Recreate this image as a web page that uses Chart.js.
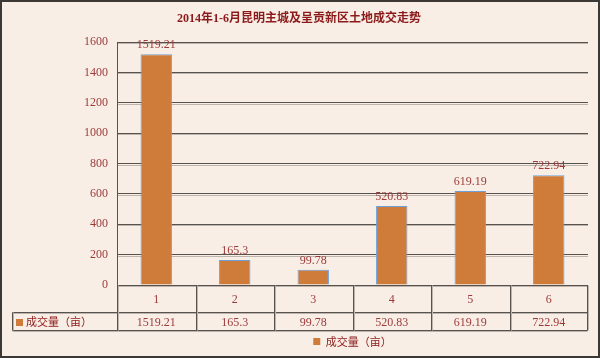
<!DOCTYPE html>
<html><head><meta charset="utf-8">
<script src="https://cdn.jsdelivr.net/npm/chart.js@4"></script>
<style>html,body{margin:0;padding:0;background:#f8eee5;overflow:hidden}</style>
</head><body>
<canvas id="c" width="600" height="358"></canvas>
<script>
const chartTitle = '2014年1-6月昆明主城及呈贡新区土地成交走势';
const categories = ['1', '2', '3', '4', '5', '6'];
const seriesName = '成交量（亩）';
const values = [1519.21, 165.3, 99.78, 520.83, 619.19, 722.94];
const valueLabels = ['1519.21', '165.3', '99.78', '520.83', '619.19', '722.94'];
const yMin = 0, yMax = 1600, yStep = 200;

const BG = '#f8eee5';
const RED = '#9c3a3a';
const DARKRED = '#8b1a1a';
const BAR = '#cf7b3a';
const BAR_BORDER = '#6d9fd8';
const LINE = '#57524e';
const SHADOW = '#bdb5ad';
const SERIF = "'Liberation Serif', 'Noto Sans CJK SC', serif";
const CJK = "'Noto Sans CJK SC', sans-serif";

const deco = {
  id: 'deco',
  beforeDraw(chart) {
    const ctx = chart.ctx;
    ctx.save();
    ctx.fillStyle = BG;
    ctx.fillRect(0, 0, chart.width, chart.height);
    ctx.restore();
  },
  beforeDatasetsDraw(chart) {
    const ctx = chart.ctx, ys = chart.scales.y, a = chart.chartArea;
    ctx.save();
    ctx.strokeStyle = SHADOW;
    ctx.lineWidth = 1;
    ys.ticks.forEach(t => {
      const y = Math.round(ys.getPixelForValue(t.value)) + 1.5;
      ctx.beginPath(); ctx.moveTo(a.left + 1, y); ctx.lineTo(a.right, y); ctx.stroke();
    });
    ctx.restore();
  },
  afterDatasetsDraw(chart) {
    const ctx = chart.ctx;
    const meta = chart.getDatasetMeta(0);
    ctx.save();
    ctx.fillStyle = RED;
    ctx.font = '12px ' + SERIF;
    ctx.textAlign = 'center';
    ctx.textBaseline = 'bottom';
    meta.data.forEach((bar, i) => {
      ctx.fillText(valueLabels[i], bar.x, bar.y - 3);
    });
    ctx.restore();
  },
  afterDraw(chart) {
    const ctx = chart.ctx, xs = chart.scales.x, a = chart.chartArea;
    const n = categories.length;
    const w = (xs.right - xs.left) / n;
    const top = Math.round(a.bottom) + 0.5;
    const mid = top + 27;
    const bot = top + 45;
    const leftCell = 12.5;
    const right = Math.round(xs.right) - 0.5;
    ctx.save();
    // title
    ctx.fillStyle = DARKRED;
    ctx.font = 'bold 12px ' + SERIF;
    ctx.textAlign = 'center';
    ctx.textBaseline = 'middle';
    ctx.fillText(chartTitle, 299, 19);
    // table lines
    const seg = (x1, y1, x2, y2) => {
      const v = x1 === x2;
      ctx.strokeStyle = SHADOW;
      ctx.beginPath(); ctx.moveTo(x1 + (v ? 1 : 0), y1 + (v ? 0 : 1));
      ctx.lineTo(x2 + (v ? 1 : 0), y2 + (v ? 0 : 1)); ctx.stroke();
      ctx.strokeStyle = LINE;
      ctx.beginPath(); ctx.moveTo(x1, y1); ctx.lineTo(x2, y2); ctx.stroke();
    };
    ctx.lineWidth = 1;
    seg(Math.round(xs.left) + 0.5, top, right, top);
    seg(leftCell, mid, right, mid);
    seg(leftCell, bot, right, bot);
    seg(leftCell, mid, leftCell, bot);
    for (let i = 0; i <= n; i++) {
      const x = i === n ? right : Math.round(xs.left + i * w) + 0.5;
      seg(x, top, x, bot);
    }
    // table text
    ctx.fillStyle = RED;
    ctx.font = '12px ' + SERIF;
    ctx.textAlign = 'center';
    ctx.textBaseline = 'middle';
    categories.forEach((c, i) => {
      const cx = xs.getPixelForValue(i);
      ctx.fillText(c, cx, (top + mid) / 2 + 1);
      ctx.fillText(valueLabels[i], cx, (mid + bot) / 2 + 1);
    });
    // legend key cell
    ctx.fillStyle = BAR;
    ctx.fillRect(16, Math.round((mid + bot) / 2) - 3, 7, 7);
    ctx.fillStyle = DARKRED;
    ctx.font = '11px ' + CJK;
    ctx.textAlign = 'left';
    ctx.fillText(seriesName, 26, (mid + bot) / 2 + 0.5);
    // outer border
    ctx.strokeStyle = '#3b3835';
    ctx.lineWidth = 2;
    ctx.strokeRect(1, 1, chart.width - 2, chart.height - 2);
    ctx.restore();
  }
};

new Chart(document.getElementById('c'), {
  type: 'bar',
  data: {
    labels: categories,
    datasets: [{
      label: seriesName,
      data: values,
      backgroundColor: BAR,
      borderColor: BAR_BORDER,
      borderWidth: 1,
      barPercentage: 0.4,
      categoryPercentage: 1
    }]
  },
  options: {
    responsive: false,
    devicePixelRatio: 1,
    animation: false,
    layout: { padding: { left: 0, top: 42, right: 12, bottom: 1 } },
    plugins: {
      title: { display: false },
      tooltip: { enabled: false },
      legend: {
        display: true,
        position: 'bottom',
        fullSize: false,
        labels: {
          boxWidth: 7, boxHeight: 7, padding: 6,
          color: DARKRED,
          font: { family: CJK, size: 11 },
          generateLabels: chart => chart.data.datasets.map((ds, i) => ({
            text: ds.label,
            fillStyle: BAR,
            strokeStyle: BAR,
            lineWidth: 0,
            fontColor: DARKRED,
            hidden: false,
            datasetIndex: i
          }))
        }
      }
    },
    scales: {
      x: {
        type: 'category',
        grid: { display: false },
        border: { display: false },
        ticks: { display: false },
        afterFit: s => { s.height = 45; }
      },
      y: {
        min: yMin, max: yMax,
        ticks: { stepSize: yStep, color: RED, padding: 9, font: { family: SERIF, size: 12 }, callback: v => String(v) },
        grid: { color: LINE, lineWidth: 1, drawTicks: false },
        border: { display: true, color: LINE, width: 1 },
        afterFit: s => { s.width = 117; }
      }
    }
  },
  plugins: [deco]
});
</script>
</body></html>
